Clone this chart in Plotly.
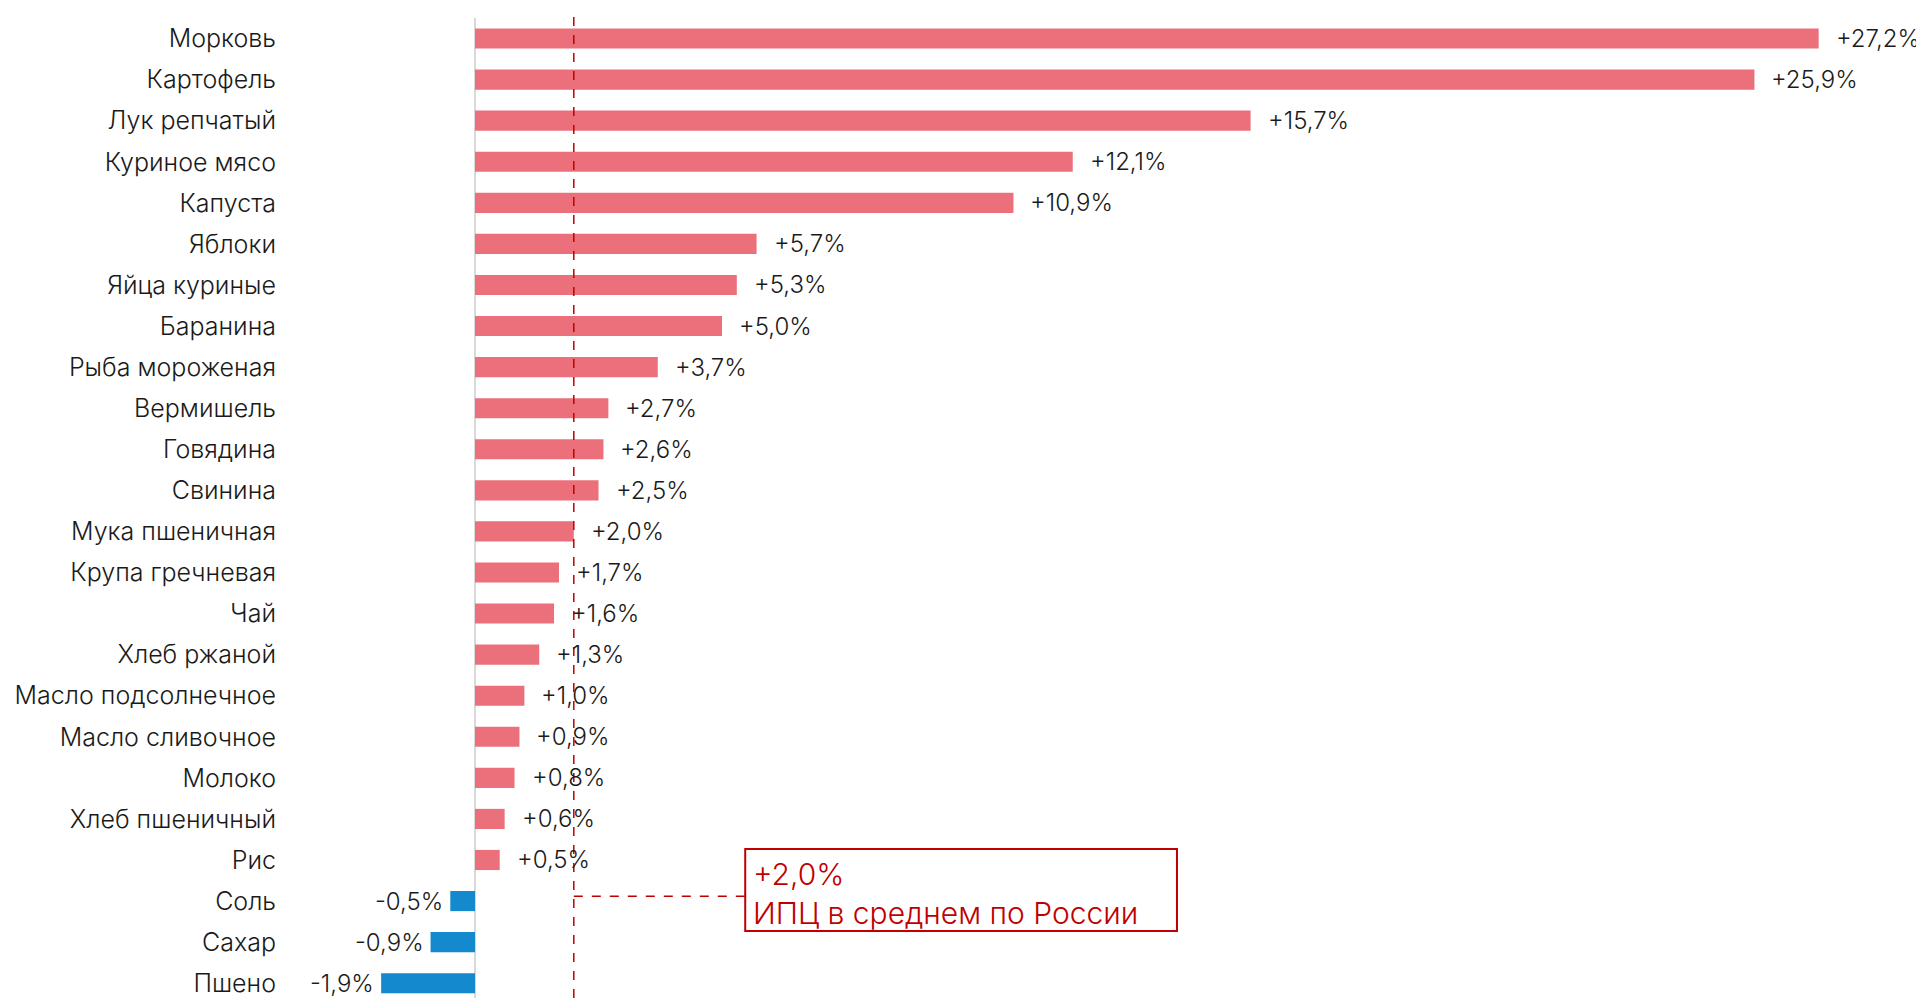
import plotly.graph_objects as go

# price change by product, %
products = ["Морковь", "Картофель", "Лук репчатый", "Куриное мясо", "Капуста",
            "Яблоки", "Яйца куриные", "Баранина", "Рыба мороженая", "Вермишель",
            "Говядина", "Свинина", "Мука пшеничная", "Крупа гречневая", "Чай",
            "Хлеб ржаной", "Масло подсолнечное", "Масло сливочное", "Молоко",
            "Хлеб пшеничный", "Рис", "Соль", "Сахар", "Пшено"]
change = [27.2, 25.9, 15.7, 12.1, 10.9, 5.7, 5.3, 5.0, 3.7, 2.7, 2.6, 2.5, 2.0,
          1.7, 1.6, 1.3, 1.0, 0.9, 0.8, 0.6, 0.5, -0.5, -0.9, -1.9]
cpi_avg = 2.0
cpi_label = "ИПЦ в среднем по России"

FONT = "Inter"
WEIGHT = 300
POS_COL = "#EB707B"
NEG_COL = "#1489CE"
RED = "#C00000"
TXT = "#1a1a1a"


def fmt(v):
    s = f"{abs(v):.1f}".replace(".", ",")
    return ("+" if v > 0 else "-") + s + "%"


colors = [POS_COL if v > 0 else NEG_COL for v in change]

fig = go.Figure()
fig.add_trace(go.Bar(x=change, y=products, orientation="h",
                     marker_color=colors, marker_line_width=0,
                     hoverinfo="x+y"))

# value labels
for p, v in zip(products, change):
    fig.add_annotation(x=v, y=p, text=fmt(v), showarrow=False,
                       xanchor="left" if v > 0 else "right",
                       xshift=15 if v > 0 else -5,
                       font=dict(size=24, color=TXT, family=FONT, weight=WEIGHT))

# average CPI line + callout box
fig.add_shape(type="line", x0=cpi_avg, x1=cpi_avg, y0=0, y1=1.006,
              xref="x", yref="paper",
              line=dict(color=RED, width=1.5, dash="dash"))
fig.add_shape(type="line", x0=cpi_avg, x1=5.47, y0=20.88, y1=20.88,
              xref="x", yref="y",
              line=dict(color=RED, width=1.5, dash="dash"))
fig.add_shape(type="rect", x0=5.47, x1=14.21, y0=19.73, y1=21.73,
              xref="x", yref="y",
              line=dict(color=RED, width=2), fillcolor="white")
fig.add_annotation(x=5.58, y=20.35, text=fmt(cpi_avg), showarrow=False,
                   xanchor="left", font=dict(size=30, color=RED, family=FONT, weight=WEIGHT))
fig.add_annotation(x=5.58, y=21.29, text=cpi_label, showarrow=False,
                   xanchor="left", font=dict(size=30, color=RED, family=FONT, weight=WEIGHT))

# page body adds an 8px offset, so figure coords are shifted accordingly
px_per = 49.4
zero_px = 467
left = 269
W, H = 1916, 990
xmin = -(zero_px - left) / px_per
fig.update_layout(
    width=W, height=H,
    margin=dict(l=left, r=0, t=10, b=0),
    paper_bgcolor="white", plot_bgcolor="white",
    showlegend=False, bargap=0.51,
    font=dict(family=FONT, size=24, color=TXT, weight=WEIGHT),
    xaxis=dict(range=[xmin, xmin + (W - left) / px_per],
               showgrid=False, showticklabels=False, zeroline=True, automargin=False,
               zerolinecolor="#d9d9d9", zerolinewidth=2),
    yaxis=dict(type="category", categoryorder="array", categoryarray=products,
               range=[23.36, -0.5], showgrid=False, ticks="", automargin=False,
               tickfont=dict(size=25, color=TXT, family=FONT, weight=WEIGHT)),
)

fig.write_html("out.html")
